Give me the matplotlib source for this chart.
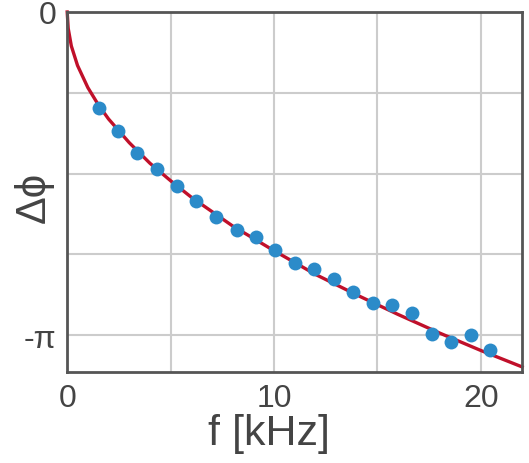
import numpy as np
import matplotlib
matplotlib.use("Agg")
import matplotlib.pyplot as plt

# measured points (f in kHz, phase shift in rad)
freq = [1.53, 2.46, 3.40, 4.34, 5.29, 6.25, 7.22, 8.19, 9.12, 10.04, 11.01,
        11.93, 12.88, 13.84, 14.79, 15.73, 16.67, 17.63, 18.56, 19.51, 20.46]
dphi = [-0.93, -1.16, -1.37, -1.53, -1.69, -1.84, -1.99, -2.12, -2.19, -2.31, -2.44,
        -2.50, -2.60, -2.72, -2.83, -2.85, -2.93, -3.13, -3.21, -3.14, -3.29]

# fitted curve
curve_f = [0, 0.05, 0.2, 0.5, 1, 1.5, 2, 3, 4, 5, 6, 8, 10, 12, 14, 16, 18, 20, 22]
curve_phi = [0, -0.16, -0.33, -0.52, -0.735, -0.90, -1.04, -1.27, -1.47, -1.64,
             -1.80, -2.08, -2.32, -2.55, -2.75, -2.94, -3.12, -3.29, -3.45]

plt.rcParams['font.family'] = ['Liberation Sans', 'DejaVu Sans']
fig = plt.figure(figsize=(5.29, 4.64), dpi=100)
ax = fig.add_axes([0.127, 0.196, 0.86, 0.776])

ax.plot(curve_f, curve_phi, color='#c0102a', lw=2.4, zorder=2, clip_on=False)
ax.plot(freq, dphi, 'o', color='#2b8bc9', ms=10, mec='none', zorder=3)

ax.set_xlim(0, 22)
ax.set_ylim(-3.5, 0)
ax.set_xticks([0, 5, 10, 15, 20], ['0', '', '10', '', '20'])
ax.set_yticks([0, -np.pi / 4, -np.pi / 2, -3 * np.pi / 4, -np.pi],
              ['0', '', '', '', '-π'])
ax.tick_params(length=0, labelsize=23, labelcolor='#444444', pad=8)
ax.grid(True, color='#cccccc', lw=1.5)
ax.set_axisbelow(True)
for s in ax.spines.values():
    s.set_color('#555555')
    s.set_linewidth(2)

ax.set_xlabel('f [kHz]', fontsize=31, color='#444444')
ax.xaxis.set_label_coords(0.443, -0.115)
ax.set_ylabel('Δϕ', fontsize=30, color='#444444')
ax.yaxis.set_label_coords(-0.03, 0.489)

fig.savefig('out.png', dpi=100)
